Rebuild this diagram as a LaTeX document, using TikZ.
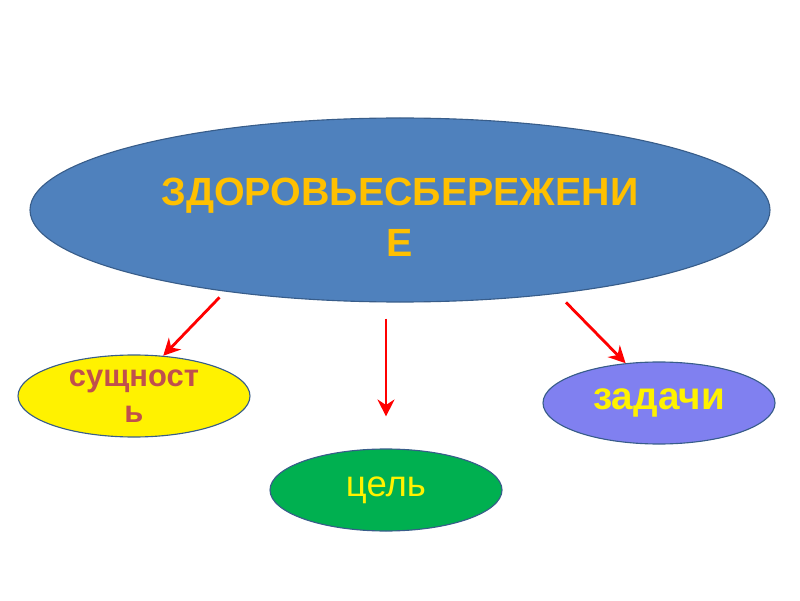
\documentclass[tikz,border=0pt]{standalone}
\usepackage{fontspec}
\setmainfont{Liberation Sans}
\usetikzlibrary{arrows.meta,shapes.geometric}

\definecolor{bigblue}{HTML}{4F81BD}
\definecolor{edgeblue}{HTML}{385D8A}
\definecolor{titleorange}{HTML}{FFC000}
\definecolor{brickred}{HTML}{C0504D}
\definecolor{lavender}{HTML}{8080F0}
\definecolor{leafgreen}{HTML}{00B050}

\tikzset{
  oval/.style={ellipse, draw=edgeblue, line width=0.8pt, inner sep=0pt,
    align=center, minimum width=5.8cm, minimum height=2.05cm},
  redarrow/.style={draw=red, line width=2pt,
    -{Stealth[length=12pt,width=12pt]}}
}

\begin{document}
\begin{tikzpicture}
\useasboundingbox (0,0) rectangle (20,15);

\node [oval, fill=bigblue, minimum width=18.5cm, minimum height=4.6cm,
  text=titleorange, font=\fontsize{28}{36}\selectfont\bfseries]
  (health) at (10,9.75) {\rule{0pt}{30pt}ЗДОРОВЬЕСБЕРЕЖЕНИ\\Е};

\node [oval, fill=yellow, text=brickred, font=\fontsize{22}{26}\selectfont\bfseries]
  (essence) at (3.35,5.1) {сущност\\ь};
\node [oval, fill=leafgreen, text=yellow, font=\fontsize{26}{30}\selectfont]
  (goal) at (9.65,2.75) {цель};
\node [oval, fill=lavender, text=yellow, font=\fontsize{27.5}{32}\selectfont\bfseries]
  (tasks) at (16.475,4.925) {задачи};

\draw [redarrow, shorten <=0.2cm] (health.-155) -- (essence.54);
\draw [redarrow, shorten <=0.4cm, shorten >=0.8cm] (goal.north |- health.south) -- (goal.north);
\draw [redarrow, shorten <=0.3cm] (health.-28) -- (tasks.130);

\end{tikzpicture}
\end{document}
